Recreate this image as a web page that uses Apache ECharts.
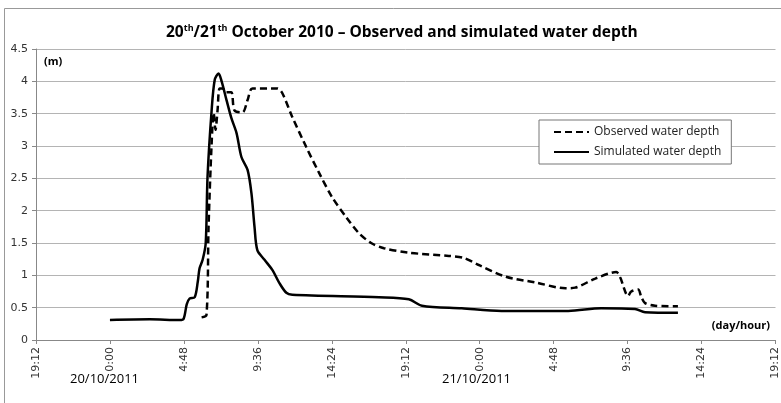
<!DOCTYPE html>
<html>
<head>
<meta charset="utf-8">
<script src="https://cdn.jsdelivr.net/npm/echarts@6/dist/echarts.min.js"></script>
<style>
  html, body { margin: 0; padding: 0; background: #fff; }
  #chart { width: 781px; height: 403px; }
</style>
</head>
<body>
<div id="chart"></div>
<script>
// time = minutes since 0:00 on 20/10, depth in metres
const observedTime = [357, 376, 384, 396, 404, 411, 419, 427, 439, 454, 473, 485, 516, 536, 555, 652, 671, 710, 765, 815, 865, 920, 970, 1017, 1067, 1164, 1320, 1378, 1436, 1541, 1657, 1774, 1812, 1890, 1972, 1987, 2018, 2030, 2057, 2069, 2084, 2123, 2212];
const observedDepth = [0.35, 0.39, 1.75, 3.04, 3.51, 3.25, 3.55, 3.89, 3.89, 3.83, 3.83, 3.55, 3.52, 3.71, 3.89, 3.89, 3.82, 3.45, 2.98, 2.58, 2.21, 1.9, 1.65, 1.5, 1.42, 1.35, 1.30, 1.27, 1.16, 0.98, 0.89, 0.80, 0.81, 0.95, 1.05, 0.97, 0.68, 0.75, 0.78, 0.67, 0.57, 0.53, 0.52];

const simulatedTime = [0, 155, 272, 287, 299, 310, 330, 342, 349, 361, 373, 380, 396, 408, 423, 435, 454, 473, 493, 512, 536, 551, 563, 574, 602, 633, 660, 687, 710, 1048, 1164, 1215, 1370, 1525, 1785, 1913, 2045, 2084, 2212];
const simulatedDepth = [0.31, 0.32, 0.31, 0.33, 0.55, 0.64, 0.66, 0.9, 1.11, 1.24, 1.5, 2.52, 3.55, 4.02, 4.12, 4.0, 3.71, 3.43, 3.2, 2.83, 2.63, 2.27, 1.75, 1.39, 1.24, 1.08, 0.88, 0.73, 0.70, 0.66, 0.63, 0.53, 0.49, 0.45, 0.45, 0.49, 0.48, 0.43, 0.42];

const dayLabels = ['20/10/2011', '21/10/2011'];
const seriesNames = ['Observed water depth', 'Simulated water depth'];

const zip = (t, v) => t.map((x, i) => [x, v[i]]);

const fmtTime = (v) => {
  const m = ((Math.round(v) % 1440) + 1440) % 1440;
  const h = Math.floor(m / 60);
  const mm = m % 60;
  return h + ':' + (mm < 10 ? '0' : '') + mm;
};

const chart = echarts.init(document.getElementById('chart'));

chart.setOption({
  animation: false,
  title: {
    text: '20{sup|th}/21{sup|th} October 2010 – Observed and simulated water depth',
    left: 161,
    top: 19,
    textStyle: {
      fontFamily: 'Open Sans',
      fontSize: 15.5,
      fontWeight: 'bold',
      color: '#000',
      rich: {
        sup: { fontFamily: 'Open Sans', fontSize: 9, fontWeight: 'bold', color: '#000', padding: [0, 0, 9, 0] }
      }
    }
  },
  legend: {
    orient: 'vertical',
    left: 539,
    top: 120,
    width: 188,
    padding: [6, 10, 6, 14],
    itemGap: 8,
    itemWidth: 35,
    itemHeight: 14,
    backgroundColor: '#fff',
    borderColor: '#777',
    borderWidth: 1,
    itemStyle: { opacity: 0 },
    textStyle: { fontFamily: 'Open Sans', fontSize: 12, color: '#222' },
    data: seriesNames
  },
  grid: { left: 36, right: 3, top: 49, bottom: 63 },
  xAxis: {
    type: 'value',
    min: -288,
    max: 2592,
    interval: 288,
    axisLine: { lineStyle: { color: '#888' } },
    axisTick: { show: true, length: 4, lineStyle: { color: '#888' } },
    splitLine: { show: false },
    axisLabel: {
      rotate: 90,
      margin: 7,
      fontFamily: 'DejaVu Sans',
      fontSize: 11,
      color: '#333',
      formatter: fmtTime
    }
  },
  yAxis: {
    type: 'value',
    min: 0,
    max: 4.5,
    interval: 0.5,
    axisLine: { show: true, onZero: false, lineStyle: { color: '#888' } },
    axisTick: { show: true, length: 4, lineStyle: { color: '#888' } },
    splitLine: { lineStyle: { color: '#b4b4b4' } },
    axisLabel: {
      margin: 8,
      fontFamily: 'DejaVu Sans',
      fontSize: 11,
      color: '#333'
    }
  },
  series: [
    {
      name: seriesNames[0],
      type: 'line',
      data: zip(observedTime, observedDepth),
      smooth: 0.3,
      symbol: 'none',
      lineStyle: { color: '#000', width: 2.5, type: [7, 4] },
      itemStyle: { color: '#000' }
    },
    {
      name: seriesNames[1],
      type: 'line',
      data: zip(simulatedTime, simulatedDepth),
      smooth: 0.3,
      symbol: 'none',
      lineStyle: { color: '#000', width: 2.5 },
      itemStyle: { color: '#000' }
    }
  ],
  graphic: [
    {
      type: 'rect',
      shape: { x: 4.5, y: 8.5, width: 800, height: 420 },
      style: { fill: 'none', stroke: '#999', lineWidth: 1 },
      silent: true
    },
    {
      type: 'text', left: 44, top: 56,
      style: { text: '(m)', font: 'bold 11px "Open Sans"', fill: '#000' }
    },
    {
      type: 'text', right: 11, top: 320,
      style: { text: '(day/hour)', font: 'bold 11px "Open Sans"', fill: '#000' }
    },
    {
      type: 'text', left: 70, top: 373,
      style: { text: dayLabels[0], font: '13px "Open Sans"', fill: '#000' }
    },
    {
      type: 'text', left: 442, top: 373,
      style: { text: dayLabels[1], font: '13px "Open Sans"', fill: '#000' }
    }
  ]
});
</script>
</body>
</html>
